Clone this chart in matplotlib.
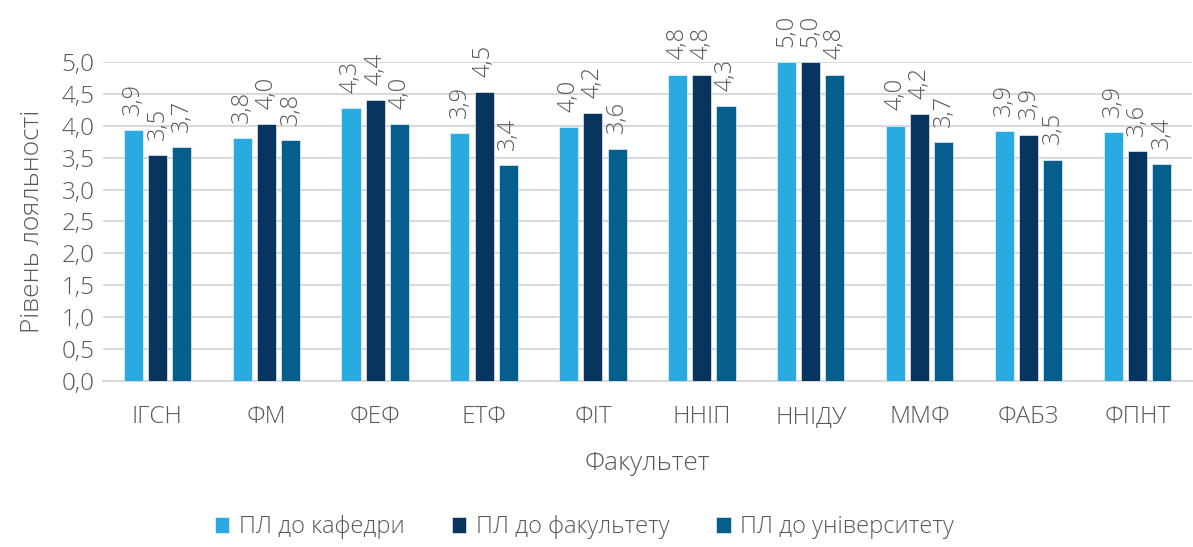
import matplotlib
matplotlib.use("Agg")
import matplotlib.pyplot as plt
import numpy as np

faculties = ["ІГСН", "ФМ", "ФЕФ", "ЕТФ", "ФІТ", "ННІП", "ННІДУ", "ММФ", "ФАБЗ", "ФПНТ"]
series_names = ["ПЛ до кафедри", "ПЛ до факультету", "ПЛ до університету"]
loyalty_department = [3.93, 3.81, 4.28, 3.89, 3.98, 4.80, 5.00, 4.00, 3.92, 3.90]
loyalty_faculty = [3.54, 4.03, 4.40, 4.53, 4.20, 4.80, 5.00, 4.18, 3.86, 3.60]
loyalty_university = [3.66, 3.78, 4.03, 3.38, 3.64, 4.31, 4.80, 3.74, 3.47, 3.40]
y_ticks = [0.0, 0.5, 1.0, 1.5, 2.0, 2.5, 3.0, 3.5, 4.0, 4.5, 5.0]

colors = ["#29ABE2", "#08355F", "#055E8C"]
text_color = "#595959"
grid_color = "#D9D9D9"
font = "Open Sans"

plt.rcParams["font.family"] = [font, "DejaVu Sans"]
plt.rcParams["font.weight"] = "light"
plt.rcParams["axes.labelweight"] = "light"

fig = plt.figure(figsize=(11.93, 5.47), dpi=100)
ax = fig.add_axes([0.0863, 0.3035, 0.9127, 0.5832])

x = np.arange(len(faculties))
width = 0.175
offset = 0.222
series = [loyalty_department, loyalty_faculty, loyalty_university]

for i, (vals, name, col) in enumerate(zip(series, series_names, colors)):
    pos = x + (i - 1) * offset
    bars = ax.bar(pos, vals, width, color=col, label=name, zorder=3,
                  edgecolor="#FFFFFF", linewidth=0.4)
    for b, v in zip(bars, vals):
        ax.annotate(f"{v:.1f}".replace(".", ","),
                    xy=(b.get_x() + b.get_width() / 2, v),
                    xytext=(0, 11), textcoords="offset points",
                    rotation=90, ha="center", va="bottom",
                    fontsize=17, color=text_color, annotation_clip=False)

ax.set_xlim(-0.5, len(faculties) - 0.5)
ax.set_ylim(0, 5.0)
ax.set_yticks(y_ticks)
ax.set_yticklabels([f"{t:.1f}".replace(".", ",") for t in y_ticks])
ax.set_xticks(x)
ax.set_xticklabels(faculties)

ax.tick_params(axis="both", length=0, colors=text_color, labelsize=17.5)
ax.tick_params(axis="x", pad=17)
ax.tick_params(axis="y", pad=6)

ax.grid(axis="y", color=grid_color, linewidth=1.5, zorder=0)
for s in ["top", "right", "left"]:
    ax.spines[s].set_visible(False)
ax.spines["bottom"].set_color(grid_color)
ax.spines["bottom"].set_linewidth(1.5)

ax.set_ylabel("Рівень лояльності", fontsize=19, color=text_color,
              labelpad=12, fontweight="light")
ax.set_xlabel("Факультет", fontsize=19, color=text_color,
              labelpad=16, fontweight="light")

leg = fig.legend(loc="lower center", bbox_to_anchor=(0.49, -0.025), ncol=3,
                 frameon=False, fontsize=17, handlelength=0.6, handleheight=0.7,
                 columnspacing=2.0, handletextpad=0.4, labelcolor=text_color)

fig.savefig("out.png", dpi=100)
